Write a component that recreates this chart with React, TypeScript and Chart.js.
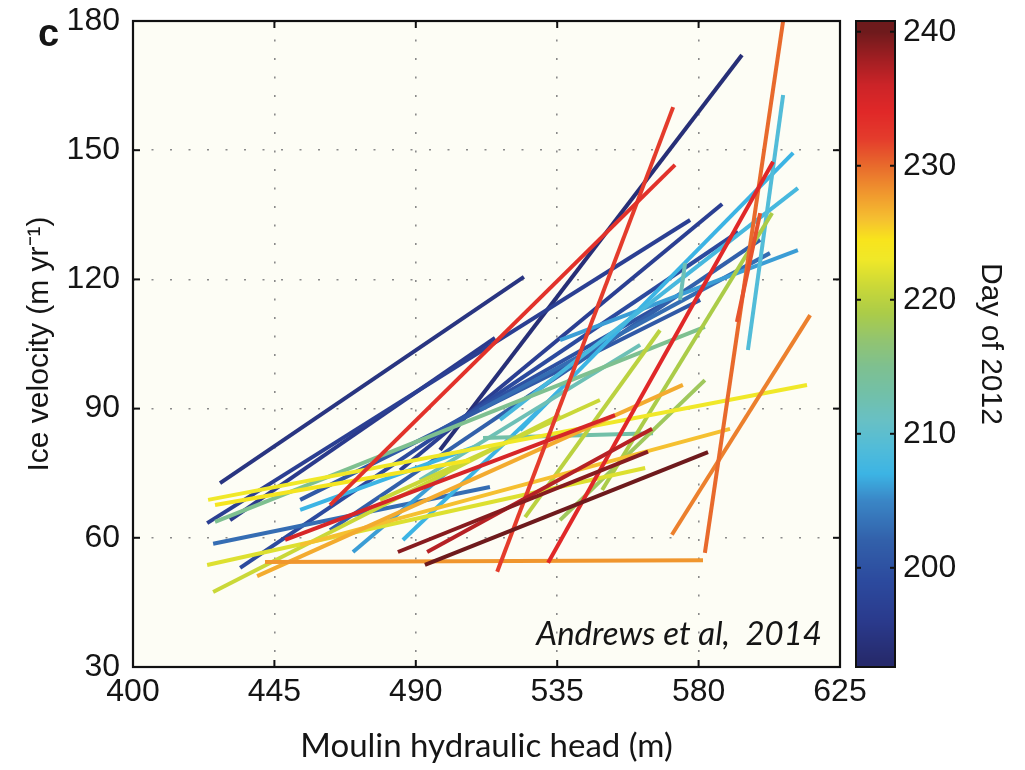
import React, { useEffect, useRef } from 'react';
import { Chart, registerables } from 'chart.js';

Chart.register(...registerables);

// ---- data: each segment = (head start, velocity start) -> (head end, velocity end), coloured by day ----
const headStart = [427.7, 497.7, 462.7, 515.9, 532.1, 442.0, 582.0, 571.5, 423.9, 425.5, 426.1, 425.5, 423.6, 434.1, 423.6, 439.5, 453.2, 448.4, 484.3, 493.6, 492.9, 511.4, 595.7, 592.2, 523.2, 516.8, 535.9, 510.4, 549.3, 535.9, 497.7, 574.1, 470.0, 485.9, 524.8, 453.2, 430.9, 453.2, 426.1, 478.6, 491.3, 462.7, 485.0];
const velStart = [72.7, 80.4, 67.6, 52.1, 54.2, 54.4, 56.5, 60.7, 68.8, 47.4, 63.7, 58.6, 53.7, 53.0, 63.4, 51.1, 58.3, 59.5, 56.7, 56.7, 53.7, 83.2, 103.6, 110.1, 85.0, 87.4, 105.9, 89.7, 71.1, 64.1, 85.0, 115.2, 56.7, 59.5, 64.8, 68.8, 64.1, 66.5, 67.6, 68.8, 73.4, 61.8, 75.7];
const headEnd = [524.4, 593.8, 572.5, 571.9, 603.7, 581.4, 607.5, 615.5, 614.5, 535.9, 582.0, 513.6, 563.0, 592.6, 577.3, 575.0, 590.0, 553.4, 563.9, 565.2, 583.0, 565.5, 606.9, 599.6, 610.1, 611.6, 611.6, 602.7, 603.4, 582.0, 570.0, 575.7, 500.9, 535.9, 567.7, 580.5, 515.2, 510.4, 507.3, 548.6, 561.4, 599.6, 587.5];
const velEnd = [120.6, 172.1, 146.6, 160.0, 147.3, 54.8, 183.0, 111.7, 95.5, 88.5, 109.0, 71.8, 76.2, 131.0, 133.8, 95.5, 85.3, 88.5, 80.0, 85.3, 79.9, 84.3, 162.8, 135.4, 149.4, 141.2, 126.8, 126.1, 135.4, 96.6, 114.8, 123.8, 75.8, 94.3, 108.2, 115.2, 106.4, 81.6, 78.0, 92.0, 104.8, 129.2, 137.5];
const dayOfYear = [195, 194, 233, 232, 234, 228, 230, 229, 223, 221, 215, 203, 222, 199, 197, 227, 226, 235, 239, 237, 240, 213, 209, 231, 207, 208, 206, 203, 219, 218, 200, 212, 206, 207, 220, 201, 196, 207, 224, 221, 212, 202, 197];

const xTicks = [400, 445, 490, 535, 580, 625];
const yTicks = [30, 60, 90, 120, 150, 180];
const dayTicks = [200, 210, 220, 230, 240];
const DAY_MIN = 192.6;
const DAY_MAX = 240.8;

// ---- colormap (jet-like) ----
const CMAP_DAYS = [193, 196, 199, 202, 205, 207, 209, 211, 213, 215, 217, 219, 221, 223, 224.5, 226, 228, 230, 232, 234, 236, 238, 240];
const CMAP_COLORS = ['#262a6c', '#2a3a8c', '#2c4a9e', '#3260aa', '#3a86c6', '#3cb4e4', '#52bcd8', '#68c0c4', '#72c0a8', '#7ec090', '#92c470', '#abcc48', '#cad838', '#f0e828', '#f8e41c', '#f5c030', '#f0962e', '#e86a2c', '#e43c2c', '#e02828', '#cc2428', '#a01e22', '#6e1a1c'];

function hexToRgb(h: string) {
  const n = parseInt(h.slice(1), 16);
  return [(n >> 16) & 255, (n >> 8) & 255, n & 255];
}
const CMAP_RGB = CMAP_COLORS.map(hexToRgb);

function dayColor(d: number) {
  if (d <= CMAP_DAYS[0]) return CMAP_COLORS[0];
  if (d >= CMAP_DAYS[CMAP_DAYS.length - 1]) return CMAP_COLORS[CMAP_COLORS.length - 1];
  let i = 0;
  while (i < CMAP_DAYS.length - 2 && d > CMAP_DAYS[i + 1]) i++;
  const t = (d - CMAP_DAYS[i]) / (CMAP_DAYS[i + 1] - CMAP_DAYS[i]);
  const a = CMAP_RGB[i], b = CMAP_RGB[i + 1];
  const c = a.map((v, k) => Math.round(v + (b[k] - v) * t));
  return `rgb(${c[0]},${c[1]},${c[2]})`;
}

const TXT = '#151515';

const decorPlugin = {
  id: 'decor',
  beforeDraw(chart: any) {
    const { ctx, chartArea: a, width, height } = chart;
    ctx.save();
    ctx.fillStyle = '#ffffff';
    ctx.fillRect(0, 0, width, height);
    ctx.fillStyle = '#fdfdf5';
    ctx.fillRect(a.left, a.top, a.right - a.left, a.bottom - a.top);
    ctx.restore();
  },
  afterDatasetsDraw(chart: any) {
    const { ctx, chartArea: a, scales } = chart;
    const xs = scales.x, ys = scales.y, ds = scales.y2;
    const line = (x1: number, y1: number, x2: number, y2: number) => {
      ctx.beginPath();
      ctx.moveTo(x1, y1);
      ctx.lineTo(x2, y2);
      ctx.stroke();
    };
    ctx.save();
    ctx.strokeStyle = '#111';
    ctx.lineWidth = 2;
    const tl = 7;
    for (const v of xTicks) {
      const px = xs.getPixelForValue(v);
      line(px, a.bottom, px, a.bottom - tl);
      line(px, a.top, px, a.top + tl);
    }
    for (const v of yTicks) {
      const py = ys.getPixelForValue(v);
      line(a.left, py, a.left + tl, py);
      line(a.right, py, a.right - tl, py);
    }
    ctx.lineWidth = 2.2;
    ctx.strokeRect(a.left, a.top, a.right - a.left, a.bottom - a.top);

    // colour bar
    const cbL = 856, cbR = 895;
    for (let py = Math.floor(a.top); py < a.bottom; py++) {
      ctx.fillStyle = dayColor(ds.getValueForPixel(py + 0.5));
      ctx.fillRect(cbL, py, cbR - cbL, 1);
    }
    ctx.lineWidth = 2;
    ctx.strokeRect(cbL, a.top, cbR - cbL, a.bottom - a.top);
    for (const v of dayTicks) {
      const py = ds.getPixelForValue(v);
      line(cbL, py, cbL + 5, py);
      line(cbR, py, cbR - 5, py);
    }

    // panel letter and credit
    ctx.fillStyle = TXT;
    ctx.textBaseline = 'alphabetic';
    ctx.textAlign = 'left';
    ctx.font = 'bold 38px "Liberation Sans", Arial, sans-serif';
    ctx.fillText('c', 38, 46);
    ctx.font = 'italic 33px Lato, "Open Sans", sans-serif';
    ctx.textAlign = 'right';
    ctx.fillText('Andrews et al,  2014', 822, 645);
    ctx.restore();
  },
};

export default function App() {
  const ref = useRef<HTMLCanvasElement | null>(null);

  useEffect(() => {
    if (!ref.current) return;
    const datasets = headStart.map((_, i) => ({
      label: `Day ${dayOfYear[i]}`,
      data: [
        { x: headStart[i], y: velStart[i] },
        { x: headEnd[i], y: velEnd[i] },
      ],
      borderColor: dayColor(dayOfYear[i]),
      backgroundColor: dayColor(dayOfYear[i]),
      borderWidth: 4,
      borderCapStyle: 'butt' as const,
      pointRadius: 0,
      fill: false,
      order: 300 - dayOfYear[i],
    }));

    const tickFont = { family: '"Liberation Sans", Arial, sans-serif', size: 32 };

    const chart = new Chart(ref.current, {
      type: 'line',
      data: { datasets },
      plugins: [decorPlugin],
      options: {
        animation: false,
        responsive: true,
        maintainAspectRatio: false,
        layout: { padding: { top: 21, left: 0, right: 0, bottom: 0 } },
        plugins: { legend: { display: false }, tooltip: { enabled: false } },
        scales: {
          x: {
            type: 'linear',
            min: 400,
            max: 625,
            afterBuildTicks: (s: any) => { s.ticks = xTicks.map((v) => ({ value: v })); },
            afterFit: (s: any) => { s.height = 103; },
            ticks: { font: tickFont, color: TXT, padding: 6, maxRotation: 0, autoSkip: false },
            grid: { color: '#8a8a8a', lineWidth: 1.6, drawTicks: false },
            border: { display: false, dash: [2, 16.5] },
            title: {
              display: true,
              text: 'Moulin hydraulic head (m)',
              color: TXT,
              font: { family: 'Lato, "Open Sans", sans-serif', size: 33 },
              padding: { top: 0, bottom: 4 },
            },
          },
          y: {
            type: 'linear',
            min: 30,
            max: 180,
            afterBuildTicks: (s: any) => { s.ticks = yTicks.map((v) => ({ value: v })); },
            afterFit: (s: any) => { s.width = 133; },
            ticks: { font: tickFont, color: TXT, padding: 1 },
            grid: { color: '#8a8a8a', lineWidth: 1.6, drawTicks: true, tickLength: 12, tickColor: 'rgba(0,0,0,0)' },
            border: { display: false, dash: [2, 16.5] },
            title: {
              display: true,
              text: 'Ice velocity (m yr\u207B\u00B9)',
              color: TXT,
              font: { family: '"Liberation Sans", Arial, sans-serif', size: 30 },
              padding: { top: 22, bottom: 0 },
            },
          },
          y2: {
            type: 'linear',
            position: 'right',
            min: DAY_MIN,
            max: DAY_MAX,
            afterBuildTicks: (s: any) => { s.ticks = dayTicks.map((v) => ({ value: v })); },
            afterFit: (s: any) => { s.width = 185; },
            ticks: { font: tickFont, color: TXT, padding: 1 },
            grid: { display: false, drawTicks: true, tickLength: 62 },
            border: { display: false },
            title: {
              display: true,
              text: 'Day of 2012',
              color: TXT,
              font: { family: '"Liberation Sans", Arial, sans-serif', size: 30 },
              padding: { top: 17, bottom: 0 },
            },
          },
        },
      },
    });
    return () => chart.destroy();
  }, []);

  return (
    <div style={{ position: 'absolute', left: 0, top: 0, width: 1025, height: 770, background: '#fff' }}>
      <canvas ref={ref} />
    </div>
  );
}
